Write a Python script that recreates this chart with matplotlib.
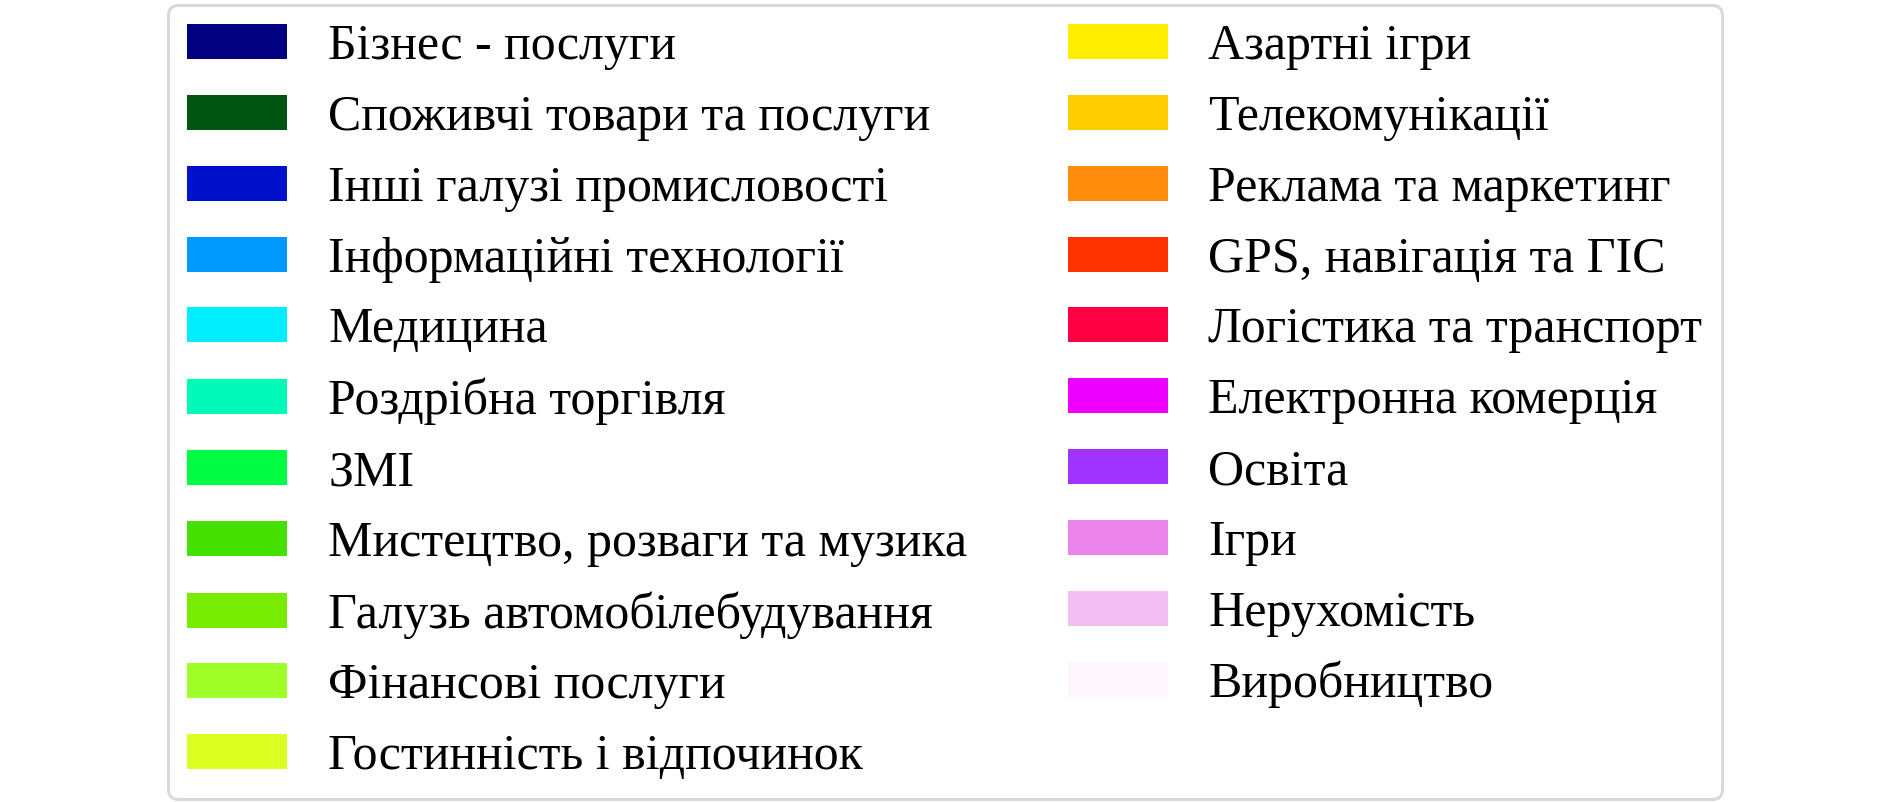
import matplotlib
matplotlib.use("Agg")
from matplotlib import pyplot as plt
from matplotlib.patches import Patch

plt.rcParams["font.family"] = ["Liberation Serif", "DejaVu Serif"]

labels = [
    "Бізнес - послуги",
    "Споживчі товари та послуги",
    "Інші галузі промисловості",
    "Інформаційні технології",
    "Медицина",
    "Роздрібна торгівля",
    "ЗМІ",
    "Мистецтво, розваги та музика",
    "Галузь автомобілебудування",
    "Фінансові послуги",
    "Гостинність і відпочинок",
    "Азартні ігри",
    "Телекомунікації",
    "Реклама та маркетинг",
    "GPS, навігація та ГІС",
    "Логістика та транспорт",
    "Електронна комерція",
    "Освіта",
    "Ігри",
    "Нерухомість",
    "Виробництво",
]

colors = [
    "#000080", "#005511", "#0011cc", "#0099ff", "#00eeff", "#00fbb8",
    "#00ff44", "#44e000", "#77ec00", "#a0ff28", "#dcff22",
    "#ffee00", "#ffcc00", "#ff8c0a", "#ff3300", "#ff0044", "#ee00ff",
    "#a033ff", "#ea84ea", "#f4c0f4", "#fff5fc",
]

fig = plt.figure(figsize=(18.9, 8.02), dpi=100)

handles = [Patch(facecolor=c, edgecolor="none") for c in colors]

fs = 36  # pt -> 50 px
leg = fig.legend(
    handles, labels,
    loc="center", bbox_to_anchor=(0.5, 0.5 - 1 / 802),
    ncol=2,
    fontsize=fs,
    handlelength=2.0,
    handleheight=0.70,
    handletextpad=0.82,
    labelspacing=0.486,
    columnspacing=2.0,
    borderpad=0.38,
    borderaxespad=0,
    fancybox=True,
    frameon=True,
)
frame = leg.get_frame()
frame.set_edgecolor("#d9d9d9")
frame.set_linewidth(2.2)
frame.set_facecolor("white")
frame.set_alpha(1)

fig.savefig("out.png", dpi=100, facecolor="white")
